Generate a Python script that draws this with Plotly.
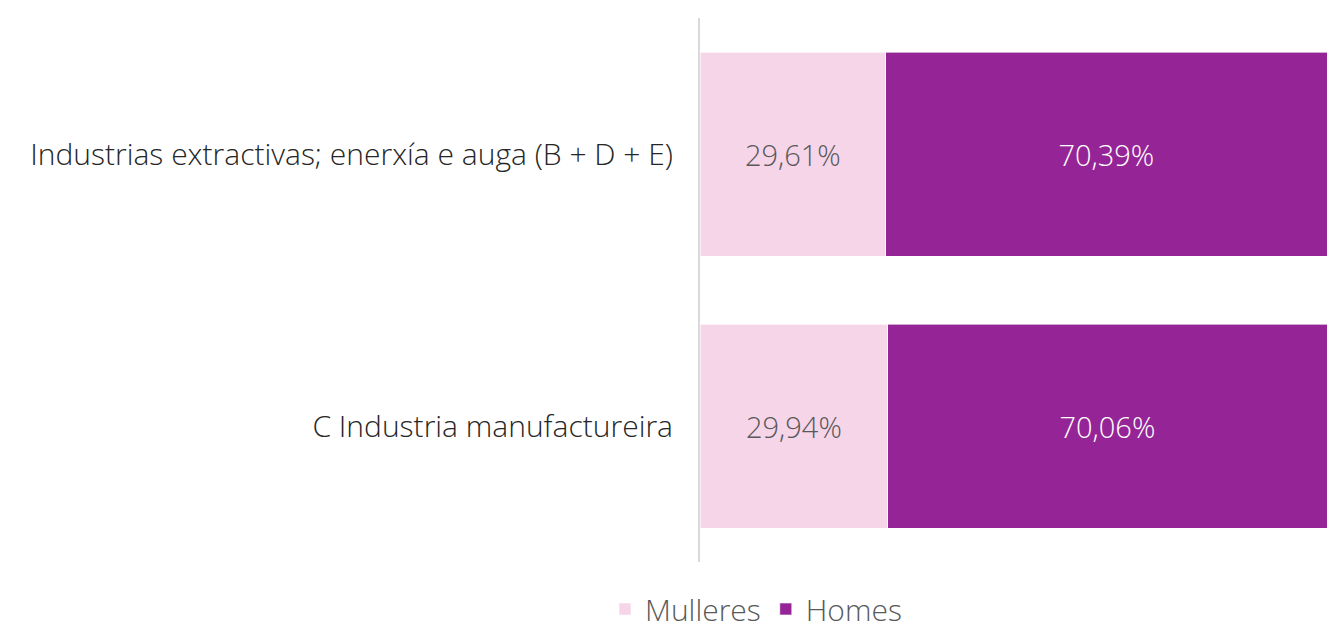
import plotly.graph_objects as go

categories = ["Industrias extractivas; enerxía e auga (B + D + E)", "C Industria manufactureira"]
mulleres = [29.61, 29.94]
homes = [70.39, 70.06]
mulleres_labels = ["29,61%", "29,94%"]
homes_labels = ["70,39%", "70,06%"]

FONT = "Open Sans"

fig = go.Figure()
fig.add_trace(go.Bar(
    y=categories, x=mulleres, name="Mulleres", orientation="h",
    marker=dict(color="#F6D5E9", line=dict(color="#FFFFFF", width=0.6)),
    text=mulleres_labels, textposition="inside", insidetextanchor="middle",
    textfont=dict(color="#595959", size=29, family=FONT, weight=300),
    hoverinfo="skip",
))
fig.add_trace(go.Bar(
    y=categories, x=homes, name="Homes", orientation="h",
    marker=dict(color="#952496", line=dict(color="#FFFFFF", width=0.6)),
    text=homes_labels, textposition="inside", insidetextanchor="middle",
    textfont=dict(color="#FFFFFF", size=29, family=FONT, weight=300),
    hoverinfo="skip",
))

fig.update_layout(
    width=1327, height=630,
    barmode="stack", bargap=0.25,
    margin=dict(l=700, r=0, t=18, b=68),
    paper_bgcolor="white", plot_bgcolor="white",
    font=dict(family=FONT, color="#262626"),
    legend=dict(
        orientation="h", xref="paper", x=(756 - 700) / 627, xanchor="center",
        yref="container", y=1 - 609 / 630, yanchor="middle",
        font=dict(size=30, color="#595959", family=FONT, weight=300),
        itemwidth=30, traceorder="normal",
    ),
    xaxis=dict(range=[0, 100], visible=False, fixedrange=True),
    yaxis=dict(
        categoryorder="array", categoryarray=categories, autorange="reversed",
        showline=True, linecolor="#D9D9D9", linewidth=2,
        showgrid=False, zeroline=False, ticks="",
        tickfont=dict(size=30, color="#262626", family=FONT, weight=300),
        ticklabelstandoff=19,
    ),
)

fig.write_html(
    "out.html",
    config={"displayModeBar": False},
    post_script="document.body.style.margin='0';document.body.style.overflow='hidden';",
)
